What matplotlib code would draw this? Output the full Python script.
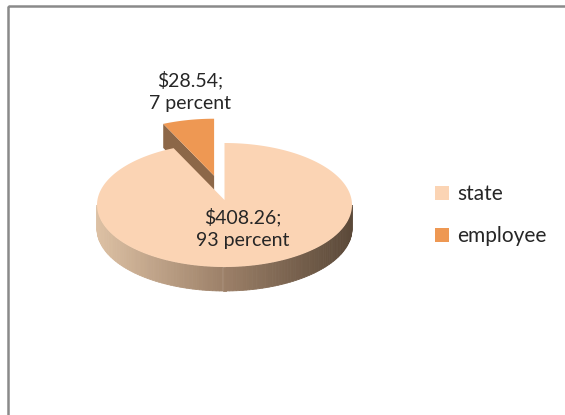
import numpy as np
import matplotlib.pyplot as plt
from matplotlib.patches import Polygon, Rectangle, Patch
from matplotlib.colors import LinearSegmentedColormap

labels = ["state", "employee"]
values = [408.26, 28.54]
colors = ["#fbd4b4", "#ee9853"]
explode = [0.0, 0.4]

# pie geometry in pixel units
cx, cy = 224.5, 205.0
rx, ry = 127.5, 62.0
depth = 24.0
apex_shift = -5.0

side_cmap = LinearSegmentedColormap.from_list(
    "side", ["#ddc1a4", "#9c8068", "#5b4939"])
cut_color = "#8c6748"

plt.rcParams["font.family"] = ["Lato", "DejaVu Sans"]

fig = plt.figure(figsize=(5.65, 4.15), dpi=100)
ax = fig.add_axes([0, 0, 1, 1])
ax.set_xlim(0, 565)
ax.set_ylim(415, 0)
ax.axis("off")


def pt(theta, off):
    t = np.radians(theta)
    return np.column_stack([cx + off[0] + rx * np.cos(t),
                            cy + off[1] - ry * np.sin(t)])


total = sum(values)
# first slice ends at 12 o'clock going clockwise; walk counterclockwise from 90 deg
spans = [None] * len(values)
start = 90.0
for i in reversed(range(len(values))):
    ang = 360.0 * values[i] / total
    spans[i] = (start, start + ang)
    start += ang

offsets = []
for (a, b), e in zip(spans, explode):
    mid = np.radians((a + b) / 2)
    offsets.append((e * rx * np.cos(mid), -e * ry * np.sin(mid)))

# back-to-front: employee (behind), then state
order = [1, 0]
for i in order:
    a, b = spans[i]
    off = offsets[i]
    apex = np.array([cx + off[0], cy + off[1] + apex_shift])

    # cut face at the max-angle edge if facing the viewer
    if np.sin(np.radians(b + 90)) < -0.05:
        p = pt(b, off)[0]
        face = [apex, p, p + [0, depth], apex + [0, depth]]
        ax.add_patch(Polygon(face, closed=True, fc=cut_color, ec="none"))

    # outer rim on the front half (180..360 deg)
    lo, hi = max(a, 180.0), min(b, 360.0)
    if hi > lo:
        th = np.linspace(lo, hi, 120)
        rim = pt(th, off)
        for k in range(len(th) - 1):
            p0, p1 = rim[k], rim[k + 1]
            quad = [p0, p1, p1 + [0, depth], p0 + [0, depth]]
            frac = ((p0[0] + p1[0]) / 2 - (cx - rx)) / (2 * rx)
            col = side_cmap(np.clip(frac, 0, 1))
            ax.add_patch(Polygon(quad, closed=True, fc=col, ec=col, lw=0.6))

    # top surface
    th = np.linspace(a, b, 300)
    top = np.vstack([apex, pt(th, off)])
    ax.add_patch(Polygon(top, closed=True, fc=colors[i], ec="none"))

# data labels
label_pos = [(243, 228), (190, 91)]
for v, (x, y) in zip(values, label_pos):
    pct = round(100 * v / total)
    ax.text(x, y, f"${v:.2f};\n{pct} percent", ha="center", va="center",
            fontsize=14, color="#262626", linespacing=1.4)

# outer frame (runs off the right and bottom edges)
ax.add_patch(Rectangle((7.5, 6.5), 700, 600, fill=False, ec="#8a8a8a",
                       lw=1.8, clip_on=False))

handles = [Patch(fc=c, ec="none") for c in colors]
fig.legend(handles, labels, loc="center left", bbox_to_anchor=(0.737, 0.482),
           frameon=False, fontsize=15, handlelength=0.65, handleheight=0.65,
           handletextpad=0.4, labelspacing=1.05, labelcolor="#262626")

fig.savefig("out.png", dpi=100)
